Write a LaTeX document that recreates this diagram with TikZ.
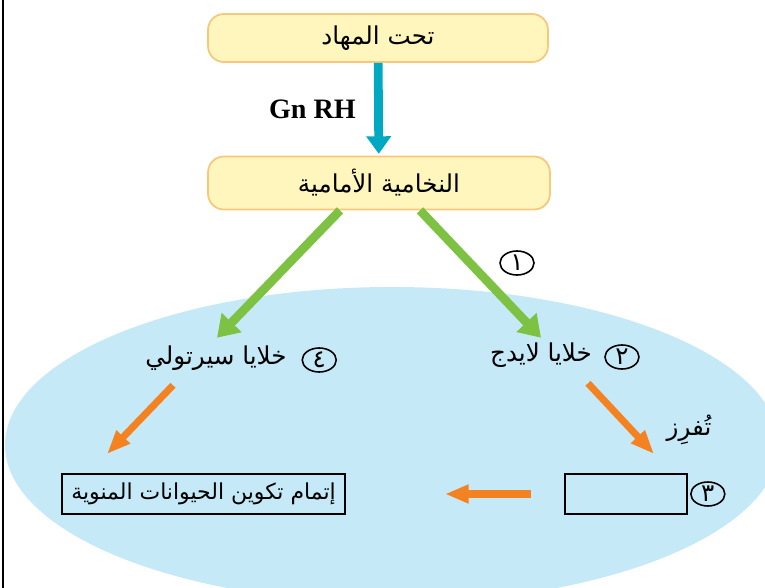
\documentclass[tikz,border=0pt]{standalone}
\usepackage{fontspec}
\setmainfont{Liberation Serif}
\newfontfamily\arabicfont[Script=Arabic]{DejaVu Sans}
\TeXXeTstate=1
\usetikzlibrary{arrows.meta,
                positioning,
                shapes.geometric}
\definecolor{glandfill}{HTML}{FFF6BE}
\definecolor{glanddraw}{HTML}{F7C77B}
\definecolor{testisfill}{HTML}{C6E9F8}
\definecolor{gnrhcyan}{HTML}{00A9C1}
\definecolor{lhgreen}{HTML}{7DC243}
\definecolor{cellorange}{HTML}{F58220}
\newcommand\artext[1]{{\arabicfont\beginR #1\endR}}

\begin{document}
\begin{tikzpicture}[x=0.02cm, y=-0.02cm,
every node/.style={
        font=\fontsize{14}{16}\selectfont
    },
gland/.style = {rectangle, rounded corners=9pt, draw=glanddraw, fill=glandfill,
                line width=1pt, minimum width=6.8cm, minimum height=0.96cm},
cell/.style = {inner sep=0pt, text height=9pt, text depth=4pt},
result/.style = {rectangle, draw=black, line width=1.2pt, minimum height=0.8cm},
num/.style = {ellipse, draw, line width=0.9pt, inner sep=0pt,
              minimum width=0.68cm, minimum height=0.48cm,
              font=\fontsize{14}{16}\selectfont},
gnrh/.style = {-{Triangle[length=10pt,width=13.6pt]}, line width=5pt, gnrhcyan},
lh/.style = {-{Triangle[length=12pt,width=15pt]}, line width=5pt, lhgreen},
secr/.style = {-{Triangle[length=13.5pt,width=10pt]}, line width=4pt, cellorange}
    ]
\useasboundingbox (0,0) rectangle (765,588);
\begin{scope}
\clip (0,0) rectangle (765,588);
\fill[testisfill] (392,445) ellipse [x radius=387, y radius=158];
\end{scope}
\draw[line width=1.5pt] (3,0) -- (3,588);

\node (hypo) [gland] at (378,38) {\artext{تحت المهاد}};
\node (pit) [gland, minimum width=6.84cm, minimum height=1.06cm] at (379,183)
        {\artext{النخامية الأمامية}};
\node (num1) [num] at (517,263) {\artext{١}};

\node (sertoli) [cell] at (216,360) {\artext{خلايا سيرتولي}};
\node (num4) [num, right=2.9mm of sertoli] {\artext{٤}};
\node (leydig) [cell] at (541,357) {\artext{خلايا لايدج}};
\node (num2) [num, right=2.4mm of leydig] {\artext{٢}};

\node (secretes) at (689,430) {\artext{تُفرِز}};
\node (secretion) [result, minimum width=2.44cm] at (626,494) {};
\node (num3) [num, right=0.4mm of secretion] {\artext{٣}};
\node (sperm) [result, minimum width=5.66cm, font=\fontsize{12.5}{15}\selectfont]
        at (203.5,494) {\artext{إتمام تكوين الحيوانات المنوية}};

\draw[gnrh, shorten >=1pt] (hypo) -- node (gnrhlabel) [left=2.5mm, black,
        font=\bfseries\fontsize{16}{18}\selectfont] {Gn RH} (pit);
\draw[lh] ([shift={(-39,0)}]pit.south) -- ([shift={(1,-10.5)}]sertoli.north);
\draw[lh] ([shift={(41,0)}]pit.south) -- ([shift={(0,-7.5)}]leydig.north);
\draw[secr] ([shift={(-43,13.5)}]sertoli.south) -- ([shift={(-96.5,-19)}]sperm.north);
\draw[secr] ([shift={(47,14.5)}]leydig.south) -- ([shift={(28,-19)}]secretion.north);
\draw[secr, shorten <=0.66cm, shorten >=1.98cm] (secretion.west) -- (sperm.east);
\end{tikzpicture}
\end{document}
